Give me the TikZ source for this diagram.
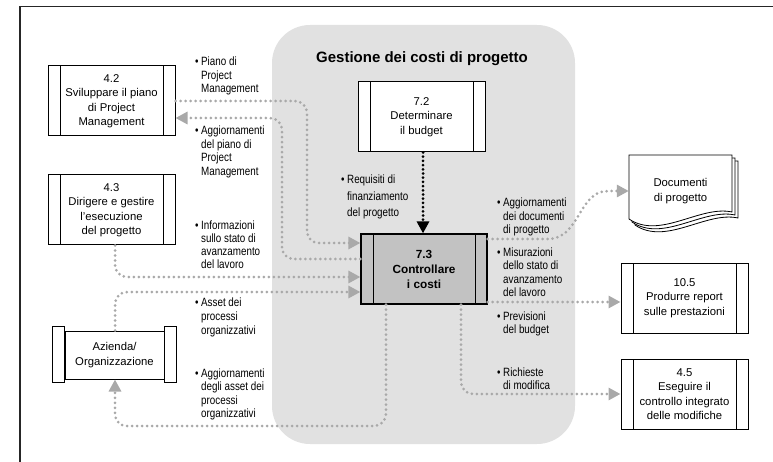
\documentclass[tikz,border=0pt]{standalone}
\usepackage{fontspec}
\setmainfont{Liberation Sans}
\newfontfamily\condfont[FakeStretch=0.82]{Liberation Sans}
\usetikzlibrary{arrows.meta}

\definecolor{regiongray}{HTML}{E1E1E1}
\definecolor{flowgray}{HTML}{A9A9A9}
\definecolor{procgray}{HTML}{C2C2C2}

% bullet followed by a left-aligned block of lines
\newcommand{\bul}[1]{\textbullet\hspace{2.5pt}\begin{tabular}[t]{@{}l@{}}#1\end{tabular}}

\tikzset{
  procbox/.style={draw=black, line width=1pt, fill=white,
    minimum width=127pt, minimum height=70pt, inner sep=0pt,
    align=center, font=\fontsize{11.3}{14.5}\selectfont,
    path picture={
      \draw[line width=0.9pt]
        ([xshift=12pt]path picture bounding box.north west) --
        ([xshift=12pt]path picture bounding box.south west)
        ([xshift=-12pt]path picture bounding box.north east) --
        ([xshift=-12pt]path picture bounding box.south east);
    }},
  lbl/.style={anchor=base west, inner sep=0pt,
    font=\condfont\fontsize{12}{13.5}\selectfont},
  flow/.style={draw=flowgray, line width=3pt, line cap=round,
    dash pattern=on 0pt off 5pt,
    -{Triangle[length=12pt,width=12pt,fill=flowgray]}},
  blackflow/.style={draw=black, line width=3pt, line cap=round,
    dash pattern=on 0pt off 4.2pt,
    -{Triangle[length=12pt,width=12pt,fill=black]}},
  page/.style={draw=black, line width=0.8pt, fill=white},
  bar/.style={draw=black, line width=1pt, fill=white},
}

\begin{document}
\begin{tikzpicture}[x=1pt, y=-1pt]
  \useasboundingbox (0,0) rectangle (773,462);

  % outer frame (top and left edges)
  \draw[line width=1.5pt, black!85] (20,462) -- (20,6.5) -- (773,6.5);

  % shaded process group
  \node[fill=regiongray, rounded corners=38pt, minimum width=303pt,
        minimum height=419pt, inner sep=0pt] (area) at (423.5,234.5) {};
  \node[font=\bfseries\fontsize{15}{18}\selectfont] (title) at (422,59)
    {Gestione dei costi di progetto};

  % process boxes
  \node[procbox] (b42) at (111.5,101) {4.2\\Sviluppare il piano\\di Project\\Management};
  \node[procbox] (b43) at (111.5,210) {4.3\\Dirigere e gestire\\l'esecuzione\\del progetto};
  \node[procbox] (b72) at (421.5,117) {7.2\\Determinare\\il budget};
  \node[procbox, fill=procgray, minimum width=126pt, line width=1.2pt,
        font=\bfseries\fontsize{11.8}{15}\selectfont] (b73) at (424,269)
    {7.3\\Controllare\\i costi};
  \node[procbox] (b105) at (684.5,298) {10.5\\Produrre report\\sulle prestazioni};
  \node[procbox] (b45) at (684.5,394) {4.5\\Eseguire il\\controllo integrato\\delle modifiche};

  % organisation (scroll shape)
  \node[draw=black, line width=1pt, fill=white, minimum width=99pt,
        minimum height=48pt, inner sep=0pt, align=center,
        font=\fontsize{11.3}{14.5}\selectfont] (az) at (114.5,355)
    {Azienda/\\Organizzazione};
  \draw[bar] ([xshift=-12pt,yshift=4pt]az.north west) rectangle ([yshift=-3pt]az.south west);
  \draw[bar] ([yshift=4pt]az.north east) rectangle ([xshift=12pt,yshift=-3pt]az.south east);

  % project documents (stacked pages)
  \foreach \d in {6,3,0}{
    \draw[page] (629+\d,155+\d) -- (732+\d,155+\d) -- (732+\d,212+\d)
      .. controls (700+\d,205+\d) and (660+\d,240+\d) .. (629+\d,219+\d) -- cycle;
  }
  \node[minimum width=103pt, minimum height=40pt, inner sep=0pt, align=center,
        font=\fontsize{11.3}{14.5}\selectfont] (docs) at (680.5,191)
    {Documenti\\di progetto};

  % flows
  \draw[flow, rounded corners=12pt] (b42.east |- 0,101) -- (307,101) -- (307,243) -- (b73.west |- 0,243);
  \draw[flow, rounded corners=12pt] (b73.west |- 0,259) -- (282,259) -- (282,118) -- (b42.east |- 0,118);
  \draw[flow, rounded corners=12pt] (b43.south -| 115,0) -- (115,277) -- (b73.west |- 0,277);
  \draw[flow, rounded corners=12pt] (az.north -| 115,0) -- (115,292) -- (b73.west |- 0,292);
  \draw[flow, rounded corners=12pt] (b73.south -| 386,0) -- (386,426) -- (115,426) -- (az.south -| 115,0);
  \draw[flow] (b73.east |- 0,239) -- (548,239) .. controls (580,239) and (578,191) .. (608,191) -- (docs.west |- 0,191);
  \draw[flow] (b73.east |- 0,302) -- (b105.west |- 0,302);
  \draw[flow, rounded corners=12pt] (b73.south -| 461,0) -- (461,394) -- (b45.west);
  \draw[blackflow] (b72.south -| 423,0) -- (b73.north -| 423,0);

  % flow labels
  \node[lbl] (lpiano) at (195,66) {\bul{Piano di\\Project\\Management}};
  \node[lbl] (laggpiano) at (195,135) {\bul{Aggiornamenti\\del piano di\\Project\\Management}};
  \node[lbl, font=\condfont\fontsize{12}{16.5}\selectfont] (lreq) at (341,184)
    {\bul{Requisiti di\\finanziamento\\del progetto}};
  \node[lbl, font=\condfont\fontsize{12}{12.7}\selectfont] (linfo) at (195,230)
    {\bul{Informazioni\\sullo stato di\\avanzamento\\del lavoro}};
  \node[lbl, font=\condfont\fontsize{12}{14}\selectfont] (lasset) at (195,306)
    {\bul{Asset dei\\processi\\organizzativi}};
  \node[lbl] (laggasset) at (195,377) {\bul{Aggiornamenti\\degli asset dei\\processi\\organizzativi}};
  \node[lbl] (laggdoc) at (497,207) {\bul{Aggiornamenti\\dei documenti\\di progetto}};
  \node[lbl] (lmis) at (497,256) {\bul{Misurazioni\\dello stato di\\avanzamento\\del lavoro}};
  \node[lbl] (lprev) at (497,320) {\bul{Previsioni\\del budget}};
  \node[lbl] (lrich) at (497,376) {\bul{Richieste\\di modifica}};
\end{tikzpicture}
\end{document}
